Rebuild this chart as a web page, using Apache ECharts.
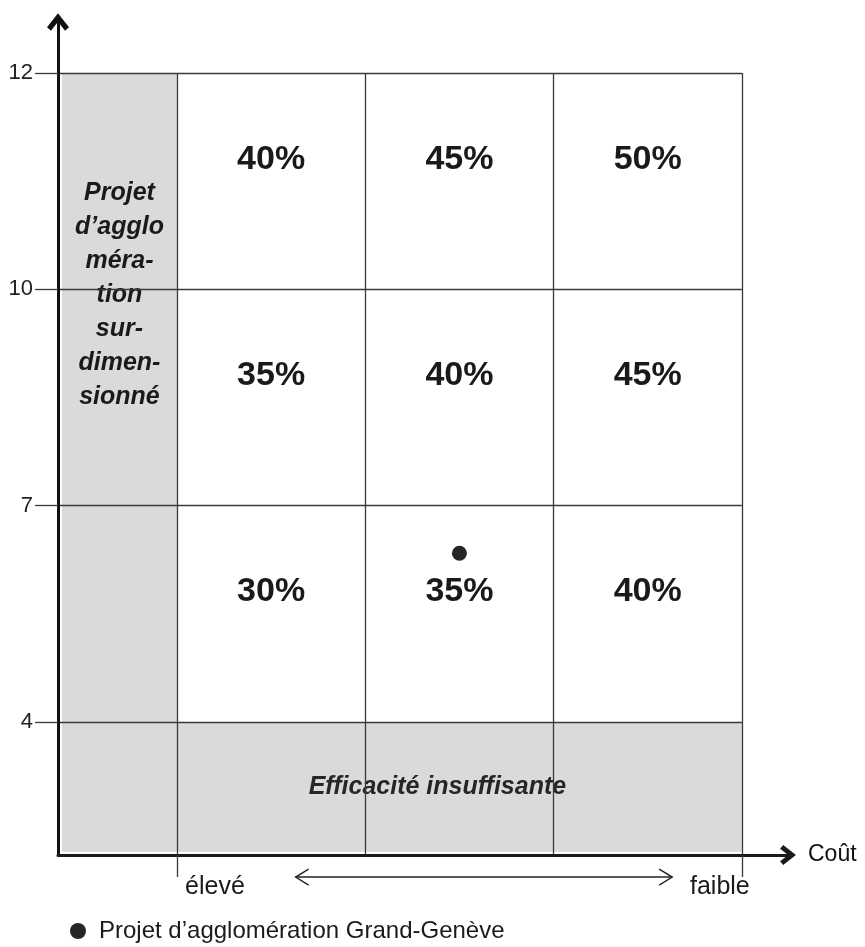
<!DOCTYPE html>
<html>
<head>
<meta charset="utf-8">
<script src="https://cdn.jsdelivr.net/npm/echarts@6/dist/echarts.min.js"></script>
<style>html,body{margin:0;padding:0;background:#fff}#c{width:865px;height:947px}</style>
</head>
<body>
<div id="c"></div>
<script>
// ---- data ----
// Efficacy score boundaries (bottom -> top), one per horizontal line
const yTickLabels = ['4', '7', '10', '12'];
// Cost axis end labels (high cost -> low cost)
const costLabels = ['élevé', 'faible'];
const costAxisName = 'Coût';
// Co-financing rate (%) per cell: rows bottom->top, columns élevé -> faible
const rateRows = [
  [30, 35, 40],
  [35, 40, 45],
  [40, 45, 50]
];
// Grey zones
const zoneOversized = 'Projet\nd’agglo\nméra-\ntion\nsur-\ndimen-\nsionné';
const zoneInefficient = 'Efficacité insuffisante';
// Position of the assessed project (column units, row units)
const projectName = 'Projet d’agglomération Grand-Genève';
const projectPoint = [1.5, 0.78];

// ---- layout helpers ----
const FONT = '"Liberation Sans", Arial, sans-serif';
const X_MIN = -0.632, X_MAX = 3.245;
const Y_MIN = -0.615, Y_MAX = 3.236;
const nCols = rateRows[0].length;
const nRows = yTickLabels.length - 1;
const CHEVRON = 'path://M0,14 L11,0 L22,14 L18,17.5 L11,8.6 L4,17.5 Z';
const GREY = '#dadada';
const LINE = '#3a3a3a';

const cellData = [];
rateRows.forEach((row, r) => row.forEach((v, c) => cellData.push([c + 0.5, r + 0.5, v])));

const gridLines = [];
yTickLabels.forEach((_, i) => gridLines.push([{coord: [X_MIN, i]}, {coord: [nCols, i]}]));
for (let c = 0; c <= nCols; c++) gridLines.push([{coord: [c, Y_MIN]}, {coord: [c, nRows]}]);

// double-headed arrow under the cost axis (from élevé towards faible), in column units
const costArrowSpan = [[0.63, 2.63]];

const chart = echarts.init(document.getElementById('c'), null, {renderer: 'canvas'});
chart.setOption({
  animation: false,
  backgroundColor: '#fff',
  textStyle: {fontFamily: FONT},
  grid: {left: 58, right: 77, top: 22, bottom: 92, containLabel: false},
  legend: {
    data: [projectName], left: 65, top: 914, icon: 'circle',
    itemWidth: 16, itemHeight: 16,
    textStyle: {fontSize: 24, color: '#1a1a1a', fontFamily: FONT, padding: [0, 0, 0, 8]}
  },
  xAxis: {
    type: 'value', min: X_MIN, max: X_MAX, z: 10,
    name: costAxisName, nameLocation: 'end', nameGap: 20,
    nameTextStyle: {fontSize: 23, color: '#111', fontFamily: FONT, verticalAlign: 'middle'},
    axisLine: {show: true, onZero: false, symbol: ['none', CHEVRON], symbolSize: [20, 17],
      lineStyle: {color: '#1a1a1a', width: 3}},
    axisTick: {show: true, customValues: [0, nCols], length: 22, lineStyle: {color: LINE, width: 1.3}},
    axisLabel: {
      customValues: [0, nCols], margin: 20,
      formatter: v => v < 1 ? '{a|' + costLabels[0] + '}' : '{b|' + costLabels[1] + '}',
      rich: {
        a: {fontSize: 25, color: '#1a1a1a', fontFamily: FONT, padding: [0, 0, 0, 76]},
        b: {fontSize: 25, color: '#1a1a1a', fontFamily: FONT, padding: [0, 44, 0, 0]}
      }
    },
    splitLine: {show: false}
  },
  yAxis: {
    type: 'value', min: Y_MIN, max: Y_MAX, z: 10,
    axisLine: {show: true, onZero: false, symbol: ['none', CHEVRON], symbolSize: [22, 18],
      lineStyle: {color: '#111', width: 3}},
    axisTick: {show: true, customValues: [0, 1, 2, 3], length: 23, lineStyle: {color: LINE, width: 1.3}},
    axisLabel: {
      customValues: [0, 1, 2, 3], margin: 25,
      formatter: v => yTickLabels[Math.round(v)],
      fontSize: 22, color: '#222', fontFamily: FONT
    },
    splitLine: {show: false}
  },
  series: [
    {
      name: 'zones', type: 'scatter', data: [], z: 1, silent: true,
      markArea: {
        silent: true,
        itemStyle: {color: GREY, opacity: 1, borderWidth: 0},
        data: [
          [{name: zoneOversized, coord: [-0.611, -0.6],
            label: {show: true, position: 'insideTop', distance: 103, align: 'center',
              fontSize: 25, fontWeight: 'bold', fontStyle: 'italic', lineHeight: 34,
              color: '#1a1a1a', fontFamily: FONT}},
           {coord: [0, nRows]}],
          [{name: zoneInefficient, coord: [0, -0.6],
            label: {show: true, position: 'inside', offset: [-22, 0],
              fontSize: 25, fontWeight: 'bold', fontStyle: 'italic',
              color: '#262626', fontFamily: FONT}},
           {coord: [nCols, 0]}]
        ]
      }
    },
    {
      name: 'lines', type: 'scatter', data: [], z: 3, silent: true, clip: false,
      markLine: {
        silent: true, symbol: ['none', 'none'], label: {show: false},
        lineStyle: {color: LINE, width: 1.3, type: 'solid'},
        emphasis: {disabled: true},
        data: gridLines
      }
    },
    {
      name: 'costArrow', type: 'custom', z: 3, silent: true, clip: false,
      data: costArrowSpan,
      renderItem: (params, api) => {
        const a = api.coord([api.value(0), -0.717]);
        const b = api.coord([api.value(1), -0.717]);
        const y = a[1], h = 8, w = 13;
        const st = {stroke: '#222', lineWidth: 1.4, fill: null};
        return {
          type: 'group',
          children: [
            {type: 'line', shape: {x1: a[0], y1: y, x2: b[0], y2: y}, style: st},
            {type: 'polyline', shape: {points: [[a[0] + w, y - h], [a[0], y], [a[0] + w, y + h]]}, style: st},
            {type: 'polyline', shape: {points: [[b[0] - w, y - h], [b[0], y], [b[0] - w, y + h]]}, style: st}
          ]
        };
      }
    },
    {
      name: 'rates', type: 'custom', z: 4, silent: true, clip: false,
      data: cellData,
      renderItem: (params, api) => {
        const p = api.coord([api.value(0), api.value(1)]);
        return {
          type: 'text', x: p[0], y: p[1] - 22,
          style: {text: api.value(2) + '%', font: 'bold 34px ' + FONT,
            align: 'center', verticalAlign: 'middle', fill: '#1a1a1a'}
        };
      }
    },
    {
      name: projectName, type: 'scatter', z: 5,
      symbol: 'circle', symbolSize: 15,
      itemStyle: {color: '#262626', opacity: 1},
      data: [projectPoint]
    }
  ]
});
</script>
</body>
</html>
